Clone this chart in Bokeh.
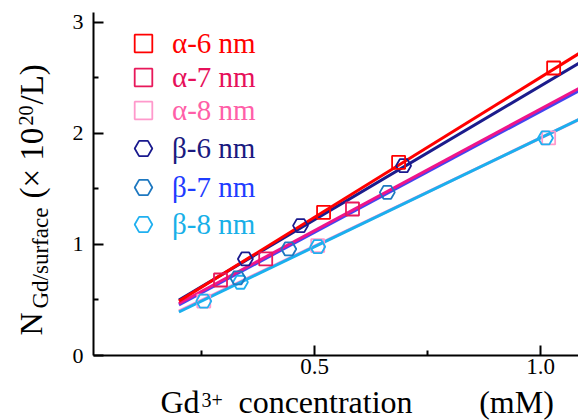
import math
from bokeh.plotting import figure
from bokeh.layouts import row, column
from bokeh.models import FixedTicker, Legend, LegendItem, Range1d
from bokeh.core.properties import value
from bokeh.embed import file_html
from bokeh.resources import INLINE

# ---------------- data ----------------
series_names = ["α-6 nm", "α-7 nm", "α-8 nm", "β-6 nm", "β-7 nm", "β-8 nm"]

a6_x = [0.52, 0.686, 1.029]
a6_y = [1.29, 1.74, 2.59]
a7_x = [0.292, 0.392, 0.584]
a7_y = [0.68, 0.87, 1.32]
a8_x = [0.255, 0.507, 1.018]
a8_y = [0.49, 0.99, 1.96]
b6_x = [0.347, 0.469, 0.697]
b6_y = [0.87, 1.17, 1.71]
b7_x = [0.33, 0.443, 0.661]
b7_y = [0.70, 0.96, 1.47]
b8_x = [0.255, 0.336, 0.507, 1.011]
b8_y = [0.49, 0.66, 0.98, 1.96]

# linear fit lines (end points)
fit_x = [0.2, 1.1]
a6_fit = [0.49, 2.758]
a7_fit = [0.468, 2.439]
a8_fit = [0.40, 2.155]
b6_fit = [0.50, 2.669]
b7_fit = [0.456, 2.418]
b8_fit = [0.392, 2.156]

x_ticks = [0.5, 1.0]
x_minor = [0.25, 0.75]
x_tick_labels = ["0.5", "1.0"]
y_ticks = [0, 1, 2, 3]
y_minor = [0.5, 1.5, 2.5]
y_tick_labels = ["0", "1", "2", "3"]

# axis title pieces
x_title_parts = ["Gd", "3+", "concentration", "(mM)"]
y_title_parts = ["N", "Gd/surface", "(× 10", "20", "/L)"]

# ---------------- styles ----------------
marker_colors = ["#ff0000", "#e8185a", "#ff99cc", "#1a1a8e", "#1e78c0", "#20b0f0"]
line_colors = ["#ff0000", "#f0148a", "#ff88cc", "#1c1c8c", "#4444f0", "#1ab0ee"]
text_colors = ["#ff0000", "#e6105a", "#ff5fa8", "#1a1a80", "#1f3cff", "#18b0e8"]
markers = ["square", "square", "square", "hex", "hex", "hex"]
marker_sizes = [13, 13, 13, 15, 15, 15]

FONT = "Liberation Serif"
X0, X1 = 0.011, 1.084
Y0, Y1 = 0.0, 3.09

W, H = 578, 420
YT_W = 60          # width of the y-title strip
MAIN_H = 384       # height of the main figure
FL, FT, FB = 93, 12, 355   # frame left / top / bottom (page px)

p = figure(width=W - YT_W, height=MAIN_H, output_backend="svg", toolbar_location=None,
           x_range=Range1d(X0, X1), y_range=Range1d(Y0, Y1),
           min_border_left=FL - YT_W, min_border_right=0, min_border_top=FT,
           min_border_bottom=MAIN_H - FB)
p.outline_line_color = None
p.xgrid.grid_line_color = None
p.ygrid.grid_line_color = None
p.background_fill_color = "white"
p.border_fill_color = "white"

for ax in (p.xaxis[0], p.yaxis[0]):
    ax.axis_line_width = 2
    ax.axis_line_color = "black"
    ax.major_tick_in = 10
    ax.major_tick_out = 0
    ax.minor_tick_in = 5
    ax.minor_tick_out = 0
    ax.major_tick_line_width = 2
    ax.minor_tick_line_width = 2
    ax.major_label_text_font = FONT
    ax.major_label_text_color = "black"

p.xaxis.ticker = FixedTicker(ticks=x_ticks, minor_ticks=x_minor)
p.xaxis.major_label_overrides = {t: l for t, l in zip(x_ticks, x_tick_labels)}
p.xaxis.major_label_text_font_size = "23px"
p.xaxis.major_label_standoff = 3

p.yaxis.ticker = FixedTicker(ticks=y_ticks, minor_ticks=y_minor)
p.yaxis.major_label_overrides = {t: l for t, l in zip(y_ticks, y_tick_labels)}
p.yaxis.major_label_text_font_size = "22px"
p.yaxis.major_label_standoff = 10

xs = [a6_x, a7_x, a8_x, b6_x, b7_x, b8_x]
ys = [a6_y, a7_y, a8_y, b6_y, b7_y, b8_y]
fits = [a6_fit, a7_fit, a8_fit, b6_fit, b7_fit, b8_fit]

# lines (bottom to top)
for i in [2, 5, 4, 1, 3, 0]:
    p.line(fit_x, fits[i], line_color=line_colors[i], line_width=3)

renderers = {}
for i in [2, 5, 4, 1, 3, 0]:
    renderers[i] = p.scatter(xs[i], ys[i], marker=markers[i], size=marker_sizes[i],
                             fill_color=None, line_color=marker_colors[i], line_width=1.8)

# legends (one per series, for individual text colours)
legend_rows = [43, 77, 110, 148, 187, 224]
GW = 44
for i in range(6):
    cy = legend_rows[i]
    leg = Legend(items=[LegendItem(label=series_names[i], renderers=[renderers[i]])],
                 location=(121 - FL, FB - (cy + GW / 2)),
                 glyph_width=GW, glyph_height=GW, label_standoff=7,
                 padding=0, margin=0, border_line_color=None,
                 background_fill_alpha=0, label_text_font=FONT,
                 label_text_font_size="29px", label_text_color=text_colors[i])
    p.add_layout(leg)


def strip(width, height, x_lo, x_hi, y_top):
    """A blank figure whose data units equal page pixels (x right, y up from page bottom)."""
    f = figure(width=width, height=height, output_backend="svg", toolbar_location=None,
               x_range=Range1d(x_lo, x_hi), y_range=Range1d(H - y_top - height, H - y_top),
               min_border=0, x_axis_type=None, y_axis_type=None)
    f.outline_line_color = None
    f.xgrid.grid_line_color = None
    f.ygrid.grid_line_color = None
    f.background_fill_color = "white"
    f.border_fill_color = "white"
    return f


DESC = 0.215  # descent of the font (fraction of size): "bottom" anchor sits this far below baseline


def put(f, text, bx, by, size, angle=0.0, align="left"):
    """Place text with its baseline at page px (bx, by)."""
    d = DESC * size
    if angle:
        ax_, ay_ = bx + d, by
    else:
        ax_, ay_ = bx, by + d
    f.text(x=[ax_], y=[H - ay_], text=[text], text_font=value(FONT),
           text_font_size=value(f"{size}px"), text_color="black", angle=angle,
           text_align=align, text_baseline="bottom")


# y-axis title strip
yt = strip(YT_W, H, 0, YT_W, 0)
A = math.pi / 2
put(yt, y_title_parts[0], 42, 335, 32, A)
put(yt, y_title_parts[1], 48, 308, 23, A)
put(yt, y_title_parts[2], 42, 198, 33, A)
put(yt, y_title_parts[3], 28, 125, 20, A)
put(yt, y_title_parts[4], 42, 104, 33, A)

# x-axis title strip (its frame is aligned with the main frame: page x FL..W)
xt = strip(W - YT_W, H - MAIN_H, FL, W, MAIN_H)
put(xt, x_title_parts[0], 160, 412.8, 32)
put(xt, x_title_parts[1], 201, 402.2, 20)
put(xt, x_title_parts[2], 325, 412.8, 32, align="center")
put(xt, x_title_parts[3], 516, 412.8, 32, align="center")

layout = row(yt, column(p, xt))
open("out.html", "w").write(file_html(layout, INLINE))
